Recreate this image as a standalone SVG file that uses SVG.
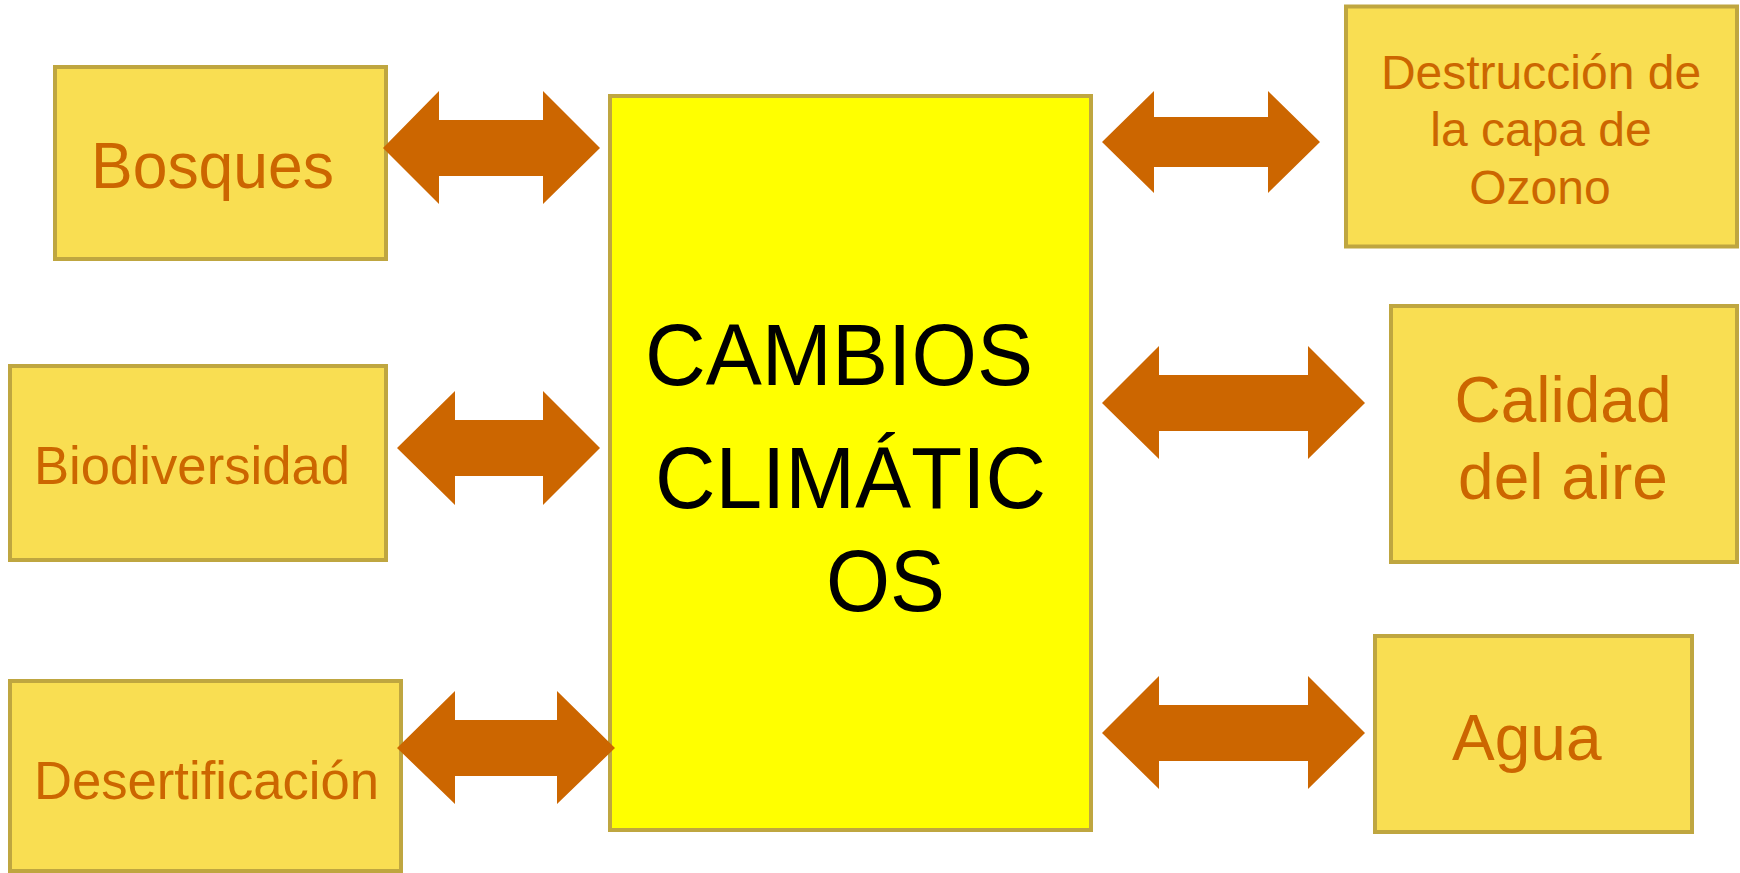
<svg xmlns="http://www.w3.org/2000/svg" width="1740" height="873" viewBox="0 0 1740 873">
<style>
.box{fill:#F9DE52;stroke:#BFA640;stroke-width:4}
.center{fill:#FFFF00;stroke:#BFA640;stroke-width:4}
.lbl{font-family:"Liberation Sans",Arial,sans-serif;fill:#CC6600}
.mid{text-anchor:middle}
.big{font-family:"Liberation Sans",Arial,sans-serif;fill:#000000;font-size:87px}
.arrow{fill:#CC6600}
</style>
<rect width="1740" height="873" fill="#FFFFFF"/>
<g id="center">
<rect class="center" x="610" y="96" width="481" height="734"/>
<text class="big" x="645" y="385" textLength="388" lengthAdjust="spacingAndGlyphs">CAMBIOS</text>
<text class="big" x="655" y="508" textLength="391" lengthAdjust="spacingAndGlyphs">CLIMÁTIC</text>
<text class="big" x="826" y="611" textLength="119" lengthAdjust="spacingAndGlyphs">OS</text>
</g>
<g id="bosques">
<rect class="box" x="55" y="67" width="331" height="192"/>
<text class="lbl" x="91" y="188" font-size="64" textLength="243" lengthAdjust="spacingAndGlyphs">Bosques</text>
</g>
<g id="biodiversidad">
<rect class="box" x="10" y="366" width="376" height="194"/>
<text class="lbl" x="34" y="484" font-size="53" textLength="316" lengthAdjust="spacingAndGlyphs">Biodiversidad</text>
</g>
<g id="desertificacion">
<rect class="box" x="10" y="681" width="391" height="190"/>
<text class="lbl" x="34" y="799" font-size="54" textLength="345" lengthAdjust="spacingAndGlyphs">Desertificación</text>
</g>
<g id="ozono">
<rect class="box" x="1346" y="6.5" width="391" height="240"/>
<text class="lbl mid" x="1541" y="89" font-size="48">Destrucción de</text>
<text class="lbl mid" x="1541" y="146" font-size="48">la capa de</text>
<text class="lbl mid" x="1540" y="204" font-size="48">Ozono</text>
</g>
<g id="calidad">
<rect class="box" x="1391" y="306" width="346" height="256"/>
<text class="lbl mid" x="1563" y="422" font-size="64">Calidad</text>
<text class="lbl mid" x="1563" y="499" font-size="64">del aire</text>
</g>
<g id="agua">
<rect class="box" x="1375" y="636" width="317" height="196"/>
<text class="lbl" x="1452" y="760" font-size="64">Agua</text>
</g>
<g id="connectors">
<polygon class="arrow" points="383,148 439,91 439,120 543,120 543,91 600,148 543,204 543,176 439,176 439,204"/>
<polygon class="arrow" points="397,448 455,391 455,420 543,420 543,391 600,448 543,505 543,476 455,476 455,505"/>
<polygon class="arrow" points="397,748 455,691 455,720 557,720 557,691 615,748 557,804 557,776 455,776 455,804"/>
<polygon class="arrow" points="1102,142 1154,91 1154,117 1268,117 1268,91 1320,142 1268,193 1268,167 1154,167 1154,193"/>
<polygon class="arrow" points="1102,403 1159,346 1159,375 1308,375 1308,346 1365,403 1308,459 1308,431 1159,431 1159,459"/>
<polygon class="arrow" points="1102,733 1159,676 1159,705 1308,705 1308,676 1365,733 1308,789 1308,761 1159,761 1159,789"/>
</g>
</svg>
